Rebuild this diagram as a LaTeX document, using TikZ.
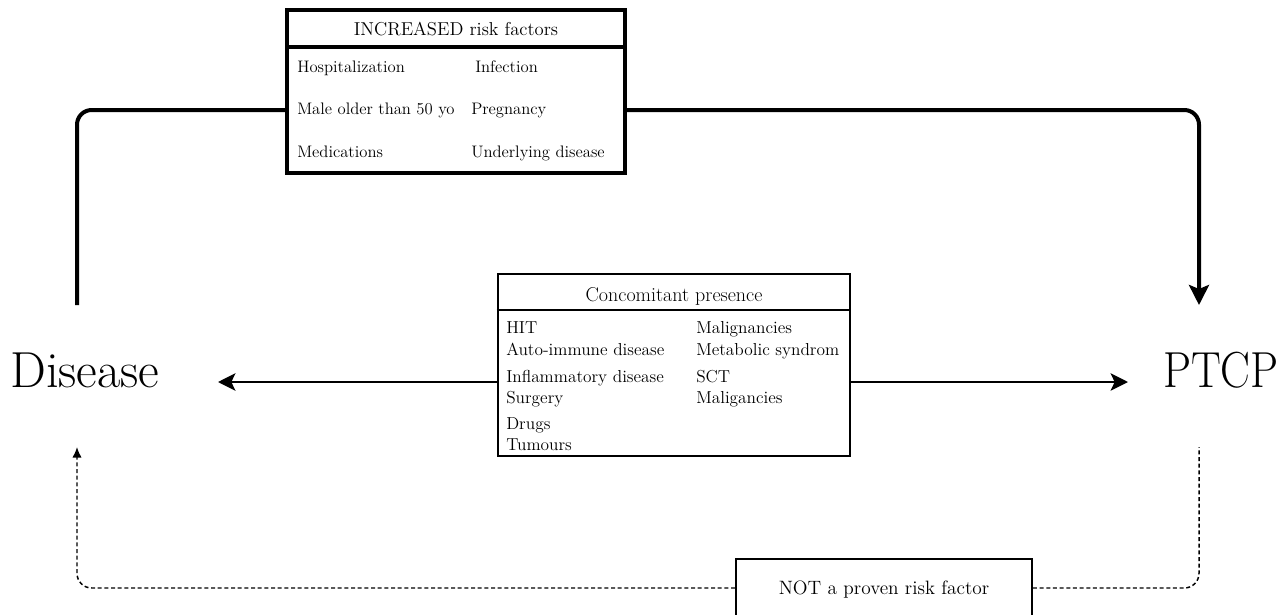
\documentclass[tikz,border=0pt]{standalone}
\usetikzlibrary{arrows.meta,fit}
\begin{document}
\begin{tikzpicture}[x=0.75pt,y=-0.75pt,
  rowtxt/.style={anchor=base west, inner sep=0pt, font=\fontsize{12.5}{15}\selectfont},
  midtxt/.style={anchor=base west, inner sep=0pt, font=\fontsize{13}{15}\selectfont},
  bigtxt/.style={anchor=base west, inner sep=0pt, font=\fontsize{38}{44}\selectfont},
  solidlink/.style={line width=3pt, rounded corners=11pt},
  midlink/.style={line width=2pt, -{Stealth[length=13pt,width=13pt,inset=3pt]}},
  dashlink/.style={line width=1.1pt, dash pattern=on 3pt off 2pt, rounded corners=11pt}]
\useasboundingbox (0,0) rectangle (1288,614);
\clip (0,0) rectangle (1288,614);
\fill[white] (0,0) rectangle (1288,614);

% top box
\node[fit={(287,10)(625,173)}, draw, line width=3pt, inner sep=0pt] (topbox) {};
\draw[line width=2.3pt] (topbox.west |- 0,47) -- (topbox.east |- 0,47);
\node[anchor=base, inner sep=0pt, font=\fontsize{14}{16}\selectfont] (toptitle) at (456,36) {INCREASED risk factors};
\node[rowtxt] (t1) at (297,72) {Hospitalization};
\node[rowtxt] (t2) at (297,114) {Male older than 50 yo};
\node[rowtxt] (t3) at (297,157) {Medications};
\node[rowtxt] (t4) at (475,72) {Infection};
\node[rowtxt] (t5) at (471,114) {Pregnancy};
\node[rowtxt] (t6) at (471,157) {Underlying disease};

% middle box
\node[fit={(498,274)(850,456)}, draw, line width=2pt, inner sep=0pt] (midbox) {};
\draw[line width=1.5pt] (midbox.west |- 0,310) -- (midbox.east |- 0,310);
\node[anchor=base, inner sep=0pt, font=\fontsize{15}{18}\selectfont] (midtitle) at (674,301) {Concomitant presence};
\node[midtxt] (m1) at (506,333) {HIT};
\node[midtxt] (m2) at (506,355) {Auto-immune disease};
\node[midtxt] (m3) at (506,382) {Inflammatory disease};
\node[midtxt] (m4) at (506,403) {Surgery};
\node[midtxt] (m5) at (506,429) {Drugs};
\node[midtxt] (m6) at (506,450) {Tumours};
\node[midtxt] (m7) at (696,333) {Malignancies};
\node[midtxt] (m8) at (696,355) {Metabolic syndrom};
\node[midtxt] (m9) at (696,382) {SCT};
\node[midtxt] (m10) at (696,403) {Maligancies};

% bottom box
\node[fit={(736,559)(1032,617)}, draw, line width=1.4pt, inner sep=0pt] (notbox) {};
\node[anchor=base, inner sep=0pt, font=\fontsize{14.5}{17}\selectfont] (nottxt) at (884,594) {NOT a proven risk factor};

% main labels
\node[bigtxt] (dis) at (10,387) {Disease};
\node[anchor=base east, inner sep=0pt, font=\fontsize{38}{44}\selectfont] (ptcp) at (1279,387) {\scalebox{0.88}[1]{PTCP}};

% coordinates for connector ends
\coordinate (tj) at (0,110);
\coordinate (dtop) at (77,305);
\coordinate (ptop) at (1199,305);
\coordinate (mj) at (0,382);
\coordinate (disend) at (218,382);
\coordinate (ptcpend) at (1128,382);
\coordinate (dbot) at (77,447);
\coordinate (pbot) at (1199,447);

% connectors
\draw[solidlink] (topbox.west |- tj) -| (dtop);
\draw[solidlink, -{Stealth[length=15pt,width=15pt,inset=3pt]}] (topbox.east |- tj) -| (ptop);
\draw[midlink] (midbox.west |- mj) -- (disend);
\draw[midlink] (midbox.east |- mj) -- (ptcpend);
\draw[dashlink, -{Latex[length=8pt,width=7pt]}] (notbox.west) -| (dbot);
\draw[dashlink] (notbox.east) -| (pbot);
\end{tikzpicture}
\end{document}
